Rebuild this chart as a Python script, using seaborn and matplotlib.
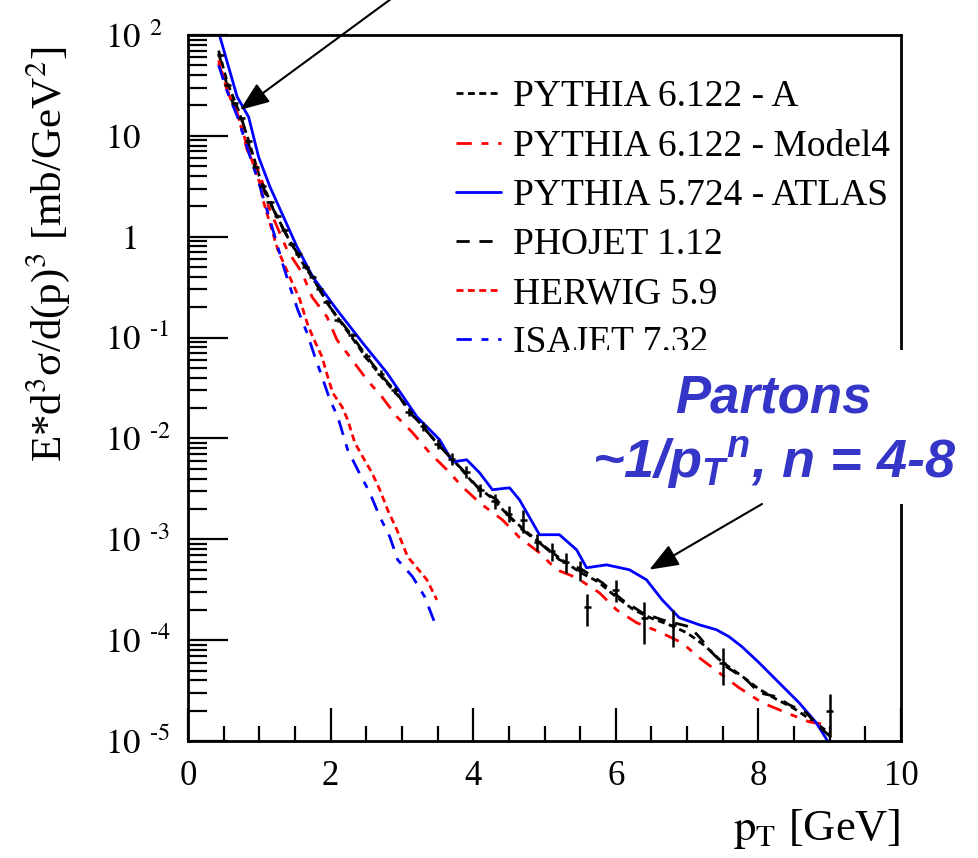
import numpy as np
import pandas as pd
import matplotlib
matplotlib.use("Agg")
import matplotlib.pyplot as plt
import seaborn as sns
from matplotlib.patches import Rectangle
from matplotlib.ticker import FixedLocator, LogLocator, MultipleLocator, NullFormatter

# ---------------- data ----------------
# PYTHIA 5.724 - ATLAS (blue solid)
atlas_pt = [0.40, 0.45, 0.69, 0.85, 0.99, 1.15, 1.34, 1.53, 1.75, 2.09, 2.45, 2.79, 3.21, 3.53,
            3.71, 3.91, 4.09, 4.27, 4.51, 4.65, 4.89, 4.93, 5.21, 5.45, 5.59, 5.87, 6.19, 6.43,
            6.65, 6.89, 7.17, 7.41, 7.59, 7.77, 8.01, 8.29, 8.57, 8.81, 8.96, 9.00]
atlas_val = [126, 95, 24.3, 15.4, 6.18, 3.12, 1.57, 0.79, 0.40, 0.188, 0.0885, 0.0447, 0.0164, 0.0097,
             0.00586, 0.00614, 0.00456, 0.0031, 0.00324, 0.00246, 0.00124, 0.00111, 0.00111, 7.87e-4,
             5.22e-4, 5.58e-4, 4.99e-4, 3.97e-4, 2.51e-4, 1.67e-4, 1.42e-4, 1.27e-4, 1.08e-4, 8.6e-5,
             5.97e-5, 3.78e-5, 2.4e-5, 1.52e-5, 1.03e-5, 9.0e-6]

# PHOJET 1.12 (black dashed)
phojet_pt = [0.43, 0.59, 0.76, 0.92, 1.11, 1.32, 1.48, 1.71, 1.99, 2.27, 2.51, 2.73, 2.93, 3.11,
             3.21, 3.49, 3.67, 3.85, 4.09, 4.33, 4.51, 4.69, 4.93, 5.21, 5.53, 5.81, 6.09, 6.37,
             6.65, 7.03, 7.17, 7.35, 7.55, 7.83, 8.01, 8.25, 8.43, 8.67, 8.85, 9.00]
phojet_val = [66, 24.3, 14.4, 5.38, 2.48, 1.25, 0.79, 0.438, 0.201, 0.111, 0.0644, 0.0407, 0.0283,
              0.0179, 0.0153, 0.00904, 0.00658, 0.00489, 0.0031, 0.00247, 0.00167, 0.00124, 9.23e-4,
              6.27e-4, 4.99e-4, 3.71e-4, 2.51e-4, 1.87e-4, 1.59e-4, 1.36e-4, 1.08e-4, 7.5e-5, 5.44e-5,
              4.06e-5, 3.01e-5, 2.75e-5, 2.29e-5, 1.91e-5, 1.39e-5, 1.12e-5]

# PYTHIA 6.122 - A (black dotted)
pyA_pt = [0.43, 0.55, 0.70, 0.85, 1.00, 1.20, 1.40, 1.60, 1.80, 2.00, 2.25, 2.50, 2.75, 3.00, 3.25,
          3.50, 3.75, 4.00, 4.25, 4.50, 4.75, 5.00, 5.25, 5.50, 5.75, 6.00, 6.25, 6.50, 6.75, 7.00,
          7.25, 7.50, 7.75, 8.00, 8.25, 8.50, 8.75, 9.00]
pyA_val = [70, 34, 18.5, 9.0, 4.0, 1.85, 0.98, 0.56, 0.34, 0.195, 0.112, 0.063, 0.038, 0.024, 0.0145,
           0.0088, 0.0058, 0.0036, 0.0026, 0.0017, 0.00118, 8.5e-4, 6.2e-4, 4.7e-4, 3.8e-4, 2.7e-4,
           2.0e-4, 1.65e-4, 1.42e-4, 1.18e-4, 8.8e-5, 6.0e-5, 4.5e-5, 3.3e-5, 2.6e-5, 2.1e-5, 1.6e-5,
           1.2e-5]

# PYTHIA 6.122 - Model4 (red long/short dash)
model4_pt = [0.43, 0.55, 0.69, 0.83, 1.01, 1.11, 1.25, 1.39, 1.60, 1.74, 1.95, 2.09, 2.27, 2.51,
             2.72, 2.93, 3.15, 3.39, 3.63, 3.85, 4.09, 4.41, 4.65, 4.93, 5.17, 5.45, 5.77, 6.01,
             6.29, 6.61, 6.93, 7.17, 7.45, 7.73, 8.05, 8.39, 8.71, 8.95]
model4_val = [52.5, 28.5, 16.9, 7.24, 4.29, 2.16, 1.25, 0.74, 0.438, 0.253, 0.160, 0.0948, 0.0644,
              0.0381, 0.0258, 0.0164, 0.0114, 0.0072, 0.00489, 0.00331, 0.0023, 0.00156, 0.00104,
              7.35e-4, 4.99e-4, 4.16e-4, 2.95e-4, 2.0e-4, 1.49e-4, 1.21e-4, 9.4e-5, 6.7e-5, 4.75e-5,
              3.37e-5, 2.4e-5, 1.91e-5, 1.55e-5, 1.45e-5]

# HERWIG 5.9 (red dotted)
herwig_pt = [0.43, 0.55, 0.70, 0.85, 1.00, 1.05, 1.15, 1.26, 1.40, 1.57, 1.67, 1.75, 1.88, 1.96,
             2.03, 2.16, 2.24, 2.34, 2.45, 2.58, 2.69, 2.80, 2.93, 3.08, 3.21, 3.35, 3.49]
herwig_val = [56, 28, 15.8, 7.1, 3.5, 2.34, 1.35, 0.74, 0.44, 0.237, 0.14, 0.1016, 0.0644, 0.0408,
              0.0283, 0.0206, 0.0153, 0.00904, 0.00658, 0.00456, 0.0031, 0.00196, 0.00124, 6.71e-4,
              5.22e-4, 3.97e-4, 2.51e-4]

# ISAJET 7.32 (blue long/short dash)
isajet_pt = [0.43, 0.55, 0.70, 0.85, 1.00, 1.12, 1.22, 1.32, 1.43, 1.54, 1.67, 1.78, 1.88, 1.99,
             2.10, 2.24, 2.38, 2.55, 2.69, 2.83, 2.94, 3.15, 3.32, 3.46]
isajet_val = [50, 27.5, 15.1, 6.9, 3.3, 1.72, 0.995, 0.562, 0.318, 0.188, 0.111, 0.0644, 0.0408,
              0.0242, 0.0164, 0.0077, 0.00489, 0.00289, 0.00167, 0.00106, 6.27e-4, 4.25e-4,
              2.69e-4, 1.49e-4]

# measured points with errors
data_pt = [0.45, 0.55, 0.65, 0.75, 0.85, 0.95, 1.05, 1.15, 1.25, 1.35, 1.45, 1.55, 1.65, 1.75,
           1.85, 1.95, 2.1, 2.3, 2.5, 2.7, 2.9, 3.1, 3.3, 3.5, 3.7, 3.9, 4.1, 4.3, 4.5, 4.7, 4.9,
           5.1, 5.3, 5.5, 5.6, 6.0, 6.4, 6.8, 7.5, 9.0]
data_val = [63, 32, 21, 15, 8.9, 4.9, 3.2, 2.2, 1.6, 1.17, 0.85, 0.68, 0.50, 0.40, 0.30, 0.224,
            0.151, 0.105, 0.066, 0.0437, 0.0302, 0.0182, 0.0132, 0.0089, 0.0063, 0.00468, 0.0031,
            0.0024, 0.0018, 0.00155, 9.5e-4, 7.6e-4, 6.0e-4, 5.0e-4, 2.14e-4, 3.16e-4, 1.66e-4,
            1.41e-4, 6.0e-5, 2.0e-5]
data_rel_err = [0.03, 0.03, 0.03, 0.03, 0.03, 0.03, 0.03, 0.03, 0.04, 0.04, 0.04, 0.04, 0.04, 0.05,
                0.05, 0.05, 0.06, 0.06, 0.07, 0.08, 0.08, 0.09, 0.10, 0.12, 0.13, 0.14, 0.15, 0.16,
                0.18, 0.25, 0.20, 0.20, 0.22, 0.22, 0.35, 0.25, 0.45, 0.40, 0.40, 0.45]

legend_labels = ["PYTHIA 6.122 - A", "PYTHIA 6.122 - Model4", "PYTHIA 5.724 - ATLAS",
                 "PHOJET 1.12", "HERWIG 5.9", "ISAJET 7.32"]
y_major = [1e-5, 1e-4, 1e-3, 1e-2, 1e-1, 1, 10, 100]
y_major_labels = [r"$10^{\enspace\text{-5}}$", r"$10^{\enspace\text{-4}}$", r"$10^{\enspace\text{-3}}$",
                  r"$10^{\enspace\text{-2}}$", r"$10^{\enspace\text{-1}}$", r"$\enspace\,1$",
                  r"$10$", r"$10^{\enspace 2}$"]

# ---------------- style ----------------
sns.set_theme(style="white")
plt.rcParams["font.family"] = ["Liberation Serif", "DejaVu Serif"]
plt.rcParams["mathtext.fontset"] = "stix"
plt.rcParams["mathtext.it"] = "Liberation Sans:italic:bold"
plt.rcParams["mathtext.rm"] = "Liberation Sans:bold"
plt.rcParams["mathtext.bf"] = "Liberation Sans:bold"
plt.rcParams["mathtext.sf"] = "Liberation Sans:bold"
plt.rcParams["lines.scale_dashes"] = False

W, H = 979, 858
fig = plt.figure(figsize=(W / 100, H / 100), dpi=100)
fig.patch.set_facecolor("white")
ax = fig.add_axes([188 / W, 1 - 741 / H, (901 - 188) / W, (741 - 35) / H])
ax.set_facecolor("white")

LW = 2.0
series = [
    (pyA_pt, pyA_val, "black", (0, (5, 3.2)), legend_labels[0]),
    (model4_pt, model4_val, "#ff0000", (0, (11, 7, 5, 7)), legend_labels[1]),
    (atlas_pt, atlas_val, "#0000ff", "-", legend_labels[2]),
    (phojet_pt, phojet_val, "black", (0, (9.5, 7)), legend_labels[3]),
    (herwig_pt, herwig_val, "#ff0000", (0, (5, 3.2)), legend_labels[4]),
    (isajet_pt, isajet_val, "#0000ff", (0, (11, 7, 5, 7)), legend_labels[5]),
]
handles = []
for xs, ys, col, ls, lab in series:
    df = pd.DataFrame({"pt": xs, "val": ys})
    sns.lineplot(data=df, x="pt", y="val", ax=ax, color=col, lw=LW, linestyle=ls,
                 estimator=None, sort=False, label=lab)
    handles.append(ax.get_lines()[-1])

# measured points
d = pd.DataFrame({"pt": data_pt, "val": data_val, "rel": data_rel_err})
ax.errorbar(d["pt"], d["val"], yerr=d["val"] * d["rel"], xerr=0.05, fmt="none",
            ecolor="black", elinewidth=1.8, capsize=0, zorder=3)

ax.set_yscale("log")
ax.set_xlim(0, 10)
ax.set_ylim(1e-5, 1e2)
ax.set_xlabel("")
ax.set_ylabel("")

ax.xaxis.set_major_locator(MultipleLocator(2))
ax.xaxis.set_minor_locator(MultipleLocator(0.5))
ax.yaxis.set_major_locator(FixedLocator(y_major))
ax.set_yticklabels(y_major_labels)
ax.yaxis.set_minor_locator(LogLocator(base=10, subs=np.arange(2, 10), numticks=20))
ax.yaxis.set_minor_formatter(NullFormatter())

ax.tick_params(axis="both", which="both", direction="in", color="black", width=1.6,
               left=True, bottom=True, right=False, top=False, labelcolor="black")
ax.tick_params(axis="y", which="major", length=29, pad=60, labelsize=25)
ax.tick_params(axis="y", which="minor", length=14)
ax.tick_params(axis="x", which="major", length=24, pad=14, labelsize=25)
ax.tick_params(axis="x", which="minor", length=11)
for lbl in ax.get_yticklabels():
    lbl.set_horizontalalignment("left")
for sp in ax.spines.values():
    sp.set_visible(True)
    sp.set_color("black")
    sp.set_linewidth(2.0)

leg = ax.legend(handles, legend_labels, loc="upper left",
                bbox_to_anchor=(456 / W, 1 - 80 / H), bbox_transform=fig.transFigure,
                frameon=False, fontsize=27, handlelength=1.2, handletextpad=0.33,
                labelspacing=0.39, borderpad=0, borderaxespad=0)
for t in leg.get_texts():
    t.set_color("black")

# arrows
ax.annotate("", xy=(0.73, 18.1), xycoords="data", xytext=(395, H + 4),
            textcoords="figure pixels", annotation_clip=False,
            arrowprops=dict(arrowstyle="-|>,head_length=0.9,head_width=0.35", color="black",
                            lw=1.5, mutation_scale=20, shrinkA=0, shrinkB=0))

# label box
fig.add_artist(Rectangle((567 / W, 1 - 504 / H), (W - 567) / W, 154 / H,
                         transform=fig.transFigure, facecolor="white", edgecolor="none",
                         zorder=5))
fig.add_artist(matplotlib.text.Annotation(
    "", xy=(6.47, 5.0e-4), xycoords=ax.transData, xytext=(762, H - 504),
    textcoords="figure pixels", annotation_clip=False,
    arrowprops=dict(arrowstyle="-|>,head_length=0.9,head_width=0.35", color="black",
                    lw=1.5, mutation_scale=20, shrinkA=0, shrinkB=0), zorder=6))

blue_txt = "#3535c8"
fig.text(773 / W, 1 - 413 / H, "Partons", ha="center", va="baseline", fontsize=38,
         color=blue_txt, family="Liberation Sans", weight="bold", style="italic", zorder=7)
fig.text(774 / W, 1 - 478 / H, r"~1/$p_{T}{}^{n}$, n = 4-8", ha="center", va="baseline",
         fontsize=39, color=blue_txt, family="Liberation Sans", weight="bold", style="italic",
         math_fontfamily="custom", zorder=7)

# axis titles
fig.text(48 / W, 1 - 254 / H, r"E*d$^{3}$σ/d(p)$^{3}$ [mb/GeV$^{2}$]", rotation=90,
         ha="center", va="center", fontsize=31, color="black")
fig.text(900 / W, 1 - 840 / H, r"$\mathrm{p_{T}}$ [GeV]", ha="right", va="baseline",
         fontsize=32, color="black")

fig.savefig("out.png", dpi=100, facecolor="white")
